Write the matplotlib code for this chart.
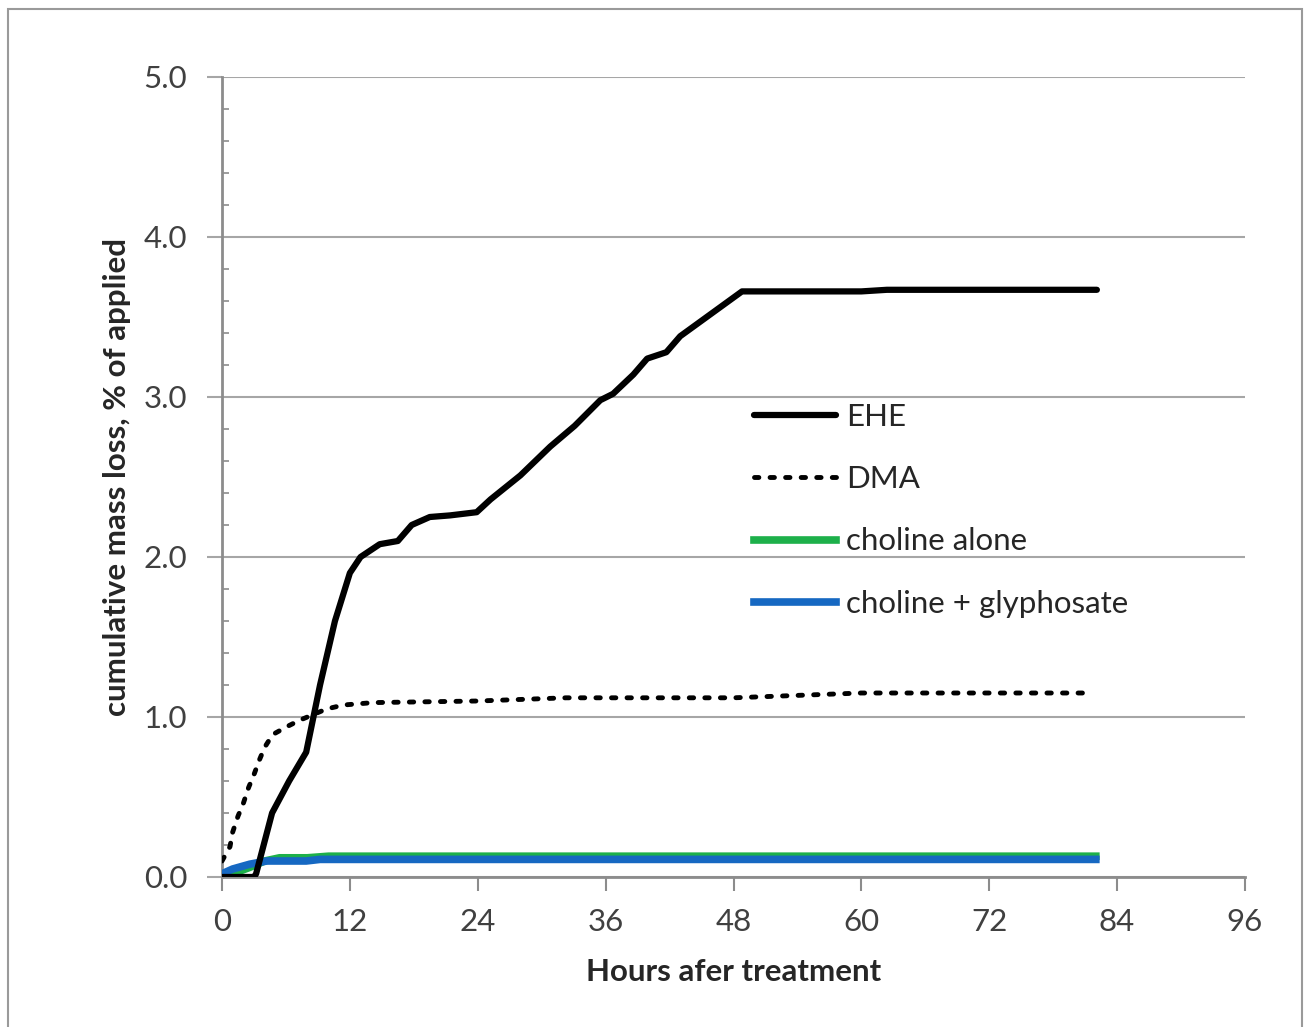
import matplotlib.pyplot as plt
import matplotlib.patches as patches
import numpy as np

plt.rcParams['font.family'] = ['Lato', 'DejaVu Sans']

# EHE (solid black)
ehe_h = [0, 3, 3.2, 4.7, 6.3, 7.9, 9.2, 10.6, 12.0, 13.0, 14.8, 16.5, 17.8, 19.5,
         21.4, 23.9, 25.2, 28.0, 30.8, 33.1, 35.5, 36.7, 38.6, 39.9, 41.7, 43.0,
         48.8, 60.0, 62.4, 82.1]
ehe_v = [0, 0, 0.02, 0.40, 0.60, 0.78, 1.20, 1.60, 1.90, 2.00, 2.08, 2.10, 2.20,
         2.25, 2.26, 2.28, 2.36, 2.51, 2.69, 2.82, 2.98, 3.02, 3.14, 3.24, 3.28,
         3.38, 3.66, 3.66, 3.67, 3.67]

# DMA (dotted)
dma_h = [0, 0.75, 1.0, 1.5, 2.0, 2.5, 3.0, 3.5, 4.0, 4.75, 6.1, 7.3, 9.8, 11.4,
         14.2, 24.0, 32.3, 48.0, 60.0, 81.0]
dma_v = [0.10, 0.19, 0.28, 0.38, 0.46, 0.56, 0.64, 0.73, 0.81, 0.89, 0.94, 0.98,
         1.05, 1.075, 1.09, 1.10, 1.12, 1.12, 1.15, 1.15]

# choline alone (green)
cho_h = [0, 1.0, 2.6, 4.0, 5.4, 8.0, 10.0, 24.0, 48.0, 82.0]
cho_v = [0.0, 0.02, 0.06, 0.10, 0.12, 0.12, 0.13, 0.13, 0.13, 0.13]

# choline + glyphosate (blue)
gly_h = [0, 1.0, 2.6, 4.2, 7.9, 9.2, 24.0, 48.0, 82.0]
gly_v = [0.02, 0.05, 0.08, 0.10, 0.10, 0.11, 0.11, 0.11, 0.11]

fs = 22.5

fig = plt.figure(figsize=(13.07, 10.27), dpi=100)
# outer frame
fig.patches.append(patches.Rectangle((8/1307, -0.02), 1294/1307, 1.02 - 9/1027,
                                     transform=fig.transFigure, fill=False,
                                     edgecolor='#9a9a9a', linewidth=1.5))
ax = fig.add_axes([222/1307, 150/1027, 1023/1307, 800/1027])

ax.plot(ehe_h, ehe_v, color='black', linewidth=4.5, label='EHE', zorder=5,
        solid_capstyle='round', solid_joinstyle='round')
ax.plot(dma_h, dma_v, color='black', linewidth=3.5, linestyle=(0, (0.9, 2.3)),
        dash_capstyle='round', label='DMA', zorder=4)
ax.plot(cho_h, cho_v, color='#1db04a', linewidth=5.5, label='choline alone', zorder=3)
ax.plot(gly_h, gly_v, color='#1668c2', linewidth=5.5, label='choline + glyphosate', zorder=3)

ax.set_xlim(0, 96)
ax.set_ylim(0, 5)
ax.set_xticks(np.arange(0, 97, 12))
ax.set_yticks(np.arange(0, 5.1, 1.0))
ax.set_yticklabels(['%.1f' % v for v in np.arange(0, 5.1, 1.0)])
ax.set_yticks(np.arange(0, 5.01, 0.2), minor=True)

ax.grid(axis='y', color='#a6a6a6', linewidth=1.5)
ax.set_axisbelow(True)
for s in ['top', 'right']:
    ax.spines[s].set_visible(False)
for s in ['left', 'bottom']:
    ax.spines[s].set_color('#8c8c8c')
    ax.spines[s].set_linewidth(2)

ax.tick_params(axis='y', which='major', length=11, width=1.5, color='#a6a6a6',
               labelsize=fs, labelcolor='#404040', pad=14)
ax.tick_params(axis='y', which='minor', direction='in', length=5, width=1.2,
               color='#8c8c8c')
ax.tick_params(axis='x', which='major', length=10, width=1.5, color='#8c8c8c',
               labelsize=fs, labelcolor='#404040', pad=12)

ax.set_xlabel('Hours afer treatment', fontsize=fs, fontweight='bold',
              color='#262626', labelpad=16)
ax.set_ylabel('cumulative mass loss, % of applied', fontsize=fs, fontweight='bold',
              color='#262626', labelpad=9)

leg = ax.legend(loc='upper left', bbox_to_anchor=(0.493, 0.628), frameon=False,
                fontsize=fs, handlelength=2.6, handletextpad=0.34,
                labelspacing=1.1, labelcolor='#262626')

fig.savefig('out.png', dpi=100)
